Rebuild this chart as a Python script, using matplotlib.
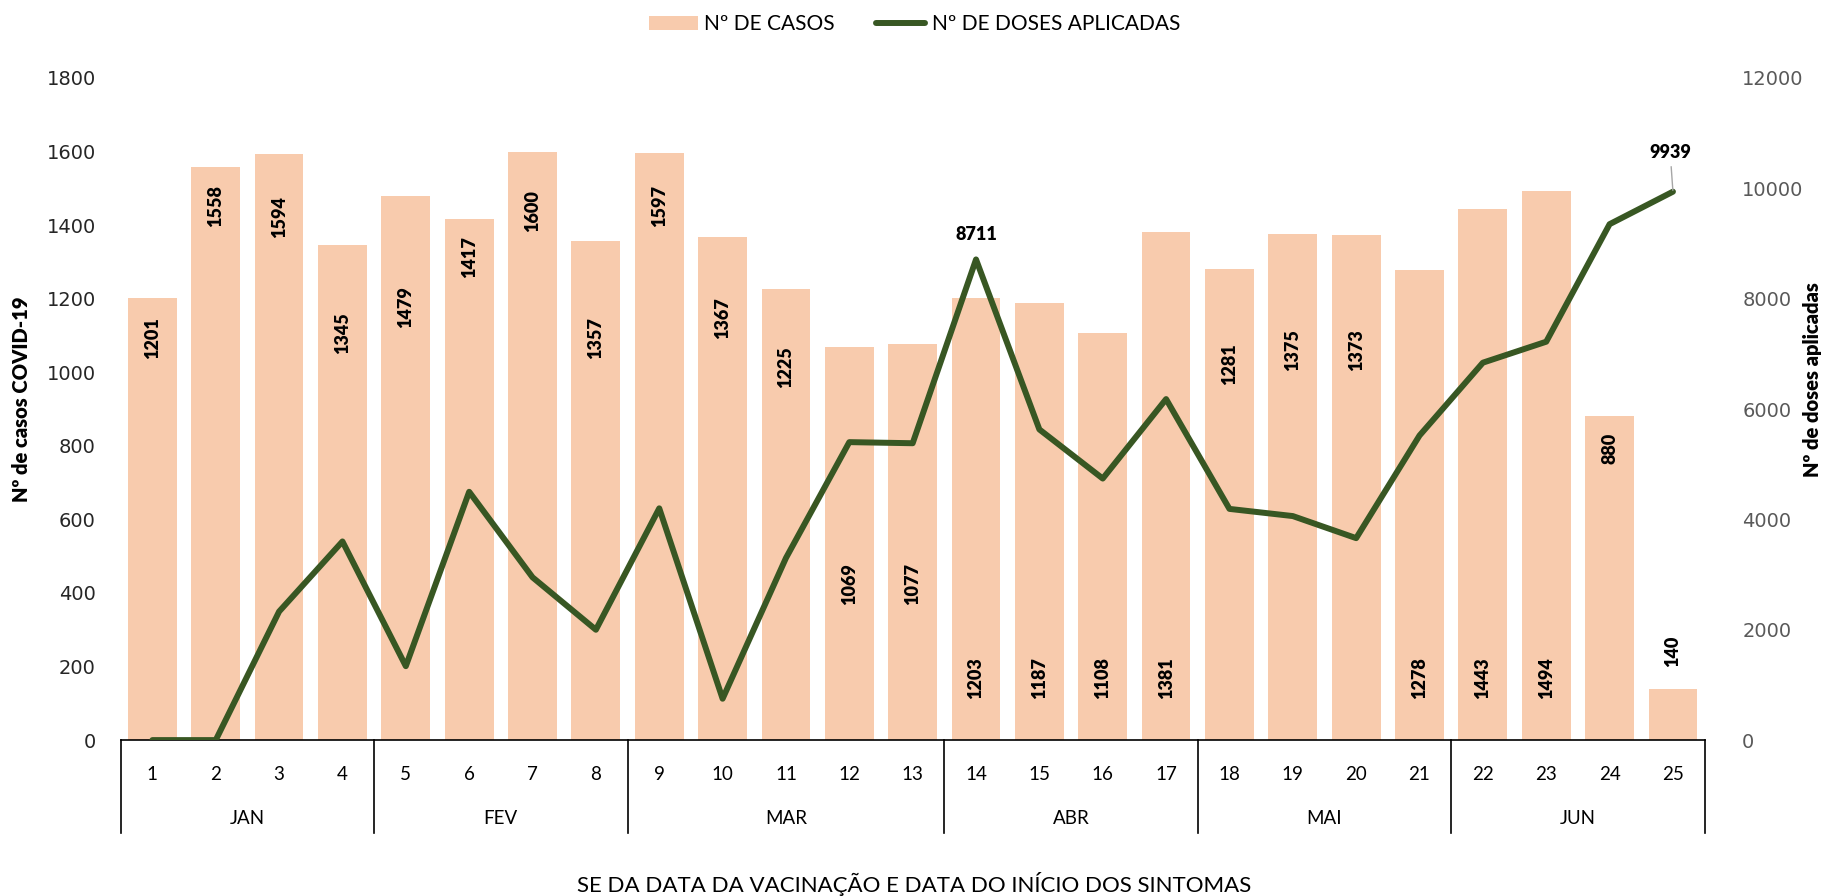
import matplotlib.pyplot as plt
from matplotlib.patches import Patch
from matplotlib.lines import Line2D

# Dados
semanas = [str(s) for s in range(1, 26)]
casos = [1201, 1558, 1594, 1345, 1479, 1417, 1600, 1357, 1597, 1367, 1225, 1069, 1077,
         1203, 1187, 1108, 1381, 1281, 1375, 1373, 1278, 1443, 1494, 880, 140]
doses = [0, 0, 2330, 3600, 1340, 4500, 2950, 2000, 4200, 750, 3300, 5400, 5380,
         8711, 5630, 4740, 6180, 4190, 4060, 3660, 5520, 6840, 7220, 9350, 9939]
meses = ["JAN", "FEV", "MAR", "ABR", "MAI", "JUN"]
semanas_por_mes = [4, 4, 5, 4, 4, 4]

# altura dos rótulos das barras (no original foram arrastados à mão)
pos_rotulo = [1092, 1451, 1422, 1105, 1178, 1314, 1438, 1092, 1451, 1146, 1013, 425, 425,
              168, 168, 168, 168, 1022, 1060, 1060, 168, 168, 168, 794, 241]

cor_barra = "#F8CBAD"
cor_linha = "#385723"
fonte = ["Lato", "DejaVu Sans"]

fig = plt.figure(figsize=(18.29, 8.96), dpi=100)
ax = fig.add_axes([0.066, 0.174, 0.866, 0.739])
ax2 = ax.twinx()

x = list(range(len(semanas)))
ax.bar(x, casos, width=0.77, color=cor_barra, zorder=1)
ax2.plot(x, doses, color=cor_linha, lw=4.3, solid_capstyle="round", zorder=3)

for i, v in enumerate(casos):
    ax.text(i, pos_rotulo[i], str(v), rotation=90, ha="center", va="center",
            fontsize=13, fontweight="heavy", family=fonte, zorder=4)

# rótulos da linha
ax2.annotate("8711", (13, doses[13]), xytext=(0, 12), textcoords="offset points",
             ha="center", va="bottom", fontsize=13, fontweight="heavy", family=fonte)
ax2.annotate("9939", (24, doses[24]), xytext=(-2, 22), textcoords="offset points",
             ha="center", va="bottom", fontsize=13, fontweight="heavy", family=fonte,
             arrowprops=dict(arrowstyle="-", color="#a6a6a6", lw=1, shrinkA=2, shrinkB=1))

ax.set_xlim(-0.5, len(semanas) - 0.5)
ax.set_ylim(0, 1800)
ax.set_yticks(range(0, 1801, 200))
ax2.set_ylim(0, 12000)
ax2.set_yticks(range(0, 12001, 2000))

for a in (ax, ax2):
    for s in a.spines.values():
        s.set_visible(False)
ax.spines["bottom"].set_visible(True)
ax.spines["bottom"].set_color("black")
ax.spines["bottom"].set_linewidth(1.2)

ax.tick_params(axis="y", length=0, pad=18, labelsize=14, labelcolor="#262626")
ax2.tick_params(axis="y", length=0, pad=27, labelsize=14, labelcolor="#595959")
ax.set_xticks(x)
ax.set_xticklabels(semanas, family=fonte, fontsize=13.5)
ax.tick_params(axis="x", length=0, pad=19)

ax.set_ylabel("Nº de casos COVID-19", family=fonte, fontsize=14.5, fontweight="heavy")
ax.yaxis.set_label_coords(-0.0625, 0.515)
ax.yaxis.label.set_verticalalignment("center")
ax2.set_ylabel("Nº de doses aplicadas", family=fonte, fontsize=14.5, fontweight="heavy",
               ha="center", va="center")
ax2.yaxis.set_label_coords(1.068, 0.545)

# eixo de categorias em dois níveis
trans = ax.get_xaxis_transform()
inicio = 0
limites = [-0.5]
for mes, n in zip(meses, semanas_por_mes):
    ax.text(inicio + (n - 1) / 2, -0.118, mes, transform=trans, ha="center", va="center",
            family=fonte, fontsize=13.5)
    inicio += n
    limites.append(inicio - 0.5)
for b in limites:
    ax.add_line(Line2D([b, b], [0, -0.1405], transform=trans, color="black", lw=1.2,
                       clip_on=False))

fig.text(0.5, 0.013, "SE DA DATA DA VACINAÇÃO E DATA DO INÍCIO DOS SINTOMAS",
         ha="center", va="center", family=fonte, fontsize=16)

handles = [Patch(facecolor=cor_barra, edgecolor="none"),
           Line2D([], [], color=cor_linha, lw=4.3, solid_capstyle="round")]
fig.legend(handles, ["Nº DE CASOS", "Nº DE DOSES APLICADAS"], loc="center",
           bbox_to_anchor=(0.5, 0.973), ncol=2, frameon=False, prop={"family": fonte, "size": 15},
           handlelength=2.35, handletextpad=0.3, columnspacing=2.0)

fig.savefig("out.png", dpi=100)
